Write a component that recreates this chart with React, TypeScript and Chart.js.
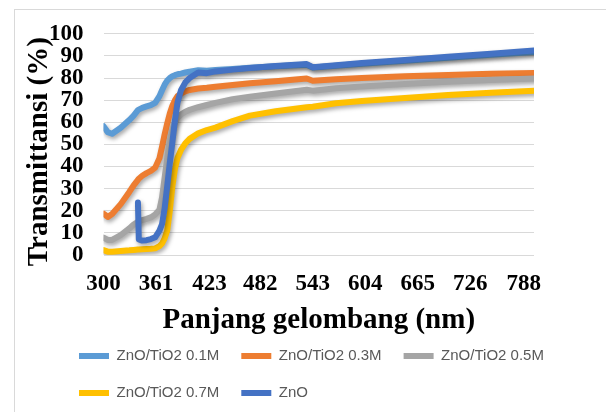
import { useEffect, useRef } from "react";
import { Chart, registerables } from "chart.js";

Chart.register(...registerables);

// Wavelength (nm) sample points
const wavelengths = [300, 305, 310, 320, 330, 335, 340, 341, 345, 350, 355, 360, 365, 368, 371, 374, 377, 380, 383, 386, 390, 395, 400, 410, 420, 430, 450, 470, 500, 536, 543, 570, 600, 650, 700, 750, 800];

const seriesLabels = ["ZnO/TiO2 0.1M", "ZnO/TiO2 0.3M", "ZnO/TiO2 0.5M", "ZnO/TiO2 0.7M", "ZnO"];
const seriesColors = ["#5B9BD5", "#ED7D31", "#A5A5A5", "#FFC000", "#4472C4"];

const t01 = [58.2, 55.5, 54.8, 57.5, 61, 63, 65.5, 65.7, 66.5, 67.2, 67.8, 68.8, 71.8, 74.5, 77, 78.8, 80, 80.8, 81.3, 81.7, 82, 82.5, 82.9, 83.5, 83.3, 83.6, 84.1, 84.6, 85.3, 86.0, 84.8, 85.6, 86.5, 87.8, 89.2, 90.5, 91.8];
const t03 = [18.7, 17.2, 18.5, 23, 28.5, 31.5, 34, 34.5, 35.8, 37, 38, 39.5, 43.8, 49, 54.5, 59.5, 64, 67.5, 70, 71.8, 73, 74, 74.6, 75.3, 75.6, 76.1, 76.9, 77.6, 78.6, 79.8, 78.8, 79.4, 80, 80.8, 81.4, 81.9, 82.3];
const t05 = [7.9, 6.8, 6.8, 9, 12, 13.8, 15, 15.2, 15.8, 16.3, 17, 18.3, 20.5, 26, 35, 44, 52, 57, 60, 62, 63.5, 64.8, 65.6, 66.8, 67.8, 68.8, 70.4, 71.5, 73, 74.7, 74.3, 75.4, 76.2, 77.3, 78.3, 79.1, 79.8];
const t07 = [2.2, 1.5, 1.5, 1.8, 2.1, 2.3, 2.5, 2.5, 2.6, 2.7, 2.8, 3, 4, 5.2, 7.5, 11, 20, 31, 39, 44, 47.5, 50.5, 52.5, 55, 56.5, 57.6, 60.5, 63, 65, 66.8, 67, 68.6, 69.6, 71, 72.3, 73.3, 74.2];
const tZnO = [null, null, null, null, null, null, 23.7, 7, 6.5, 6.7, 7.2, 8, 11, 14, 21, 31, 41.5, 51, 61, 69, 74.5, 78, 80, 82.5, 82.2, 83, 83.8, 84.5, 85.4, 86.3, 84.9, 85.8, 86.8, 88.2, 89.6, 91, 92.4];

const seriesValues = [t01, t03, t05, t07, tZnO];

const xTickValues = [300, 361, 423, 482, 543, 604, 665, 726, 788];
const xMin = 300;
const xMax = 800;
const yMin = 0;
const yMax = 100;
const yStep = 10;

const serif = '"Liberation Serif", "Times New Roman", serif';
const sans = '"Liberation Sans", Arial, sans-serif';

const framePlugin = {
  id: "frame",
  beforeDraw(chart: any) {
    const ctx = chart.ctx;
    ctx.save();
    ctx.strokeStyle = "#d9d9d9";
    ctx.lineWidth = 1;
    ctx.strokeRect(14.5, 9.5, 1000, 1000);
    ctx.restore();
  },
};

// nudge the legend block right so its first column lines up like the original
const legendShiftPlugin = {
  id: "legendShift",
  afterLayout(chart: any) {
    const lg = chart.legend;
    if (lg) {
      lg.left += 11;
      lg.right += 11;
    }
  },
};

const shadowPlugin = {
  id: "lineShadow",
  beforeDatasetsDraw(chart: any) {
    const ctx = chart.ctx;
    ctx.save();
    ctx.shadowColor = "rgba(0,0,0,0.35)";
    ctx.shadowBlur = 4;
    ctx.shadowOffsetX = 1.5;
    ctx.shadowOffsetY = 2.5;
  },
  afterDatasetsDraw(chart: any) {
    chart.ctx.restore();
  },
};

export default function App() {
  const canvasRef = useRef<HTMLCanvasElement | null>(null);

  useEffect(() => {
    if (!canvasRef.current) return;
    const datasets = seriesLabels.map((label, i) => ({
      label,
      data: wavelengths.map((x, j) => ({ x, y: seriesValues[i][j] })),
      borderColor: seriesColors[i],
      backgroundColor: seriesColors[i],
      borderWidth: 6,
      borderCapStyle: "round" as const,
      borderJoinStyle: "round" as const,
      pointRadius: 0,
      pointHoverRadius: 0,
      tension: 0,
      spanGaps: false,
      order: seriesLabels.length - i,
    }));

    const chart = new Chart(canvasRef.current, {
      type: "line",
      data: { datasets },
      plugins: [framePlugin, legendShiftPlugin, shadowPlugin],
      options: {
        responsive: false,
        animation: false,
        devicePixelRatio: 1,
        layout: { padding: { left: 46, right: 0, top: 23, bottom: 1.5 } },
        plugins: {
          tooltip: { enabled: false },
          legend: {
            position: "bottom",
            align: "start",
            labels: {
              usePointStyle: true,
              pointStyle: "line",
              pointStyleWidth: 30,
              padding: 22,
              color: "#595959",
              font: { family: sans, size: 15 },
              sort: (a: any, b: any) => a.datasetIndex - b.datasetIndex,
            },
          },
        },
        scales: {
          x: {
            type: "linear",
            min: xMin,
            max: xMax,
            afterBuildTicks: (scale: any) => {
              scale.ticks = xTickValues.map((value) => ({ value }));
            },
            afterFit: (scale: any) => {
              scale.height = 71.5;
            },
            grid: { display: false, drawTicks: false },
            border: { display: false },
            ticks: {
              autoSkip: false,
              maxRotation: 0,
              padding: 15,
              color: "#000",
              font: { family: serif, size: 23, weight: "bold" },
              callback: (v: any) => String(v),
            },
            title: {
              display: true,
              text: "Panjang gelombang (nm)",
              color: "#000",
              font: { family: serif, size: 29, weight: "bold" },
              padding: { top: 0, bottom: -11 },
            },
          },
          y: {
            type: "linear",
            position: "left",
            min: yMin,
            max: yMax,
            afterFit: (scale: any) => {
              scale.width = 57.5;
            },
            grid: { color: "#d9d9d9", lineWidth: 1, drawTicks: false },
            border: { display: false },
            ticks: {
              stepSize: yStep,
              autoSkip: false,
              padding: 20,
              color: "#000",
              font: { family: serif, size: 23, weight: "bold" },
            },
            title: {
              display: true,
              text: "Transmittansi (%)  ",
              color: "#000",
              font: { family: serif, size: 29, weight: "bold" },
              padding: { top: -24, bottom: 0 },
            },
          },
          yRight: {
            type: "linear",
            position: "right",
            display: true,
            afterFit: (scale: any) => {
              scale.width = 72;
            },
            grid: { display: false, drawTicks: false },
            border: { display: false },
            ticks: { display: false },
          },
        },
      },
    });

    return () => {
      chart.destroy();
    };
  }, []);

  return (
    <div style={{ position: "absolute", left: 0, top: 0, width: 606, height: 412, background: "#fff" }}>
      <canvas ref={canvasRef} width={606} height={412} style={{ display: "block", width: 606, height: 412 }} />
    </div>
  );
}
